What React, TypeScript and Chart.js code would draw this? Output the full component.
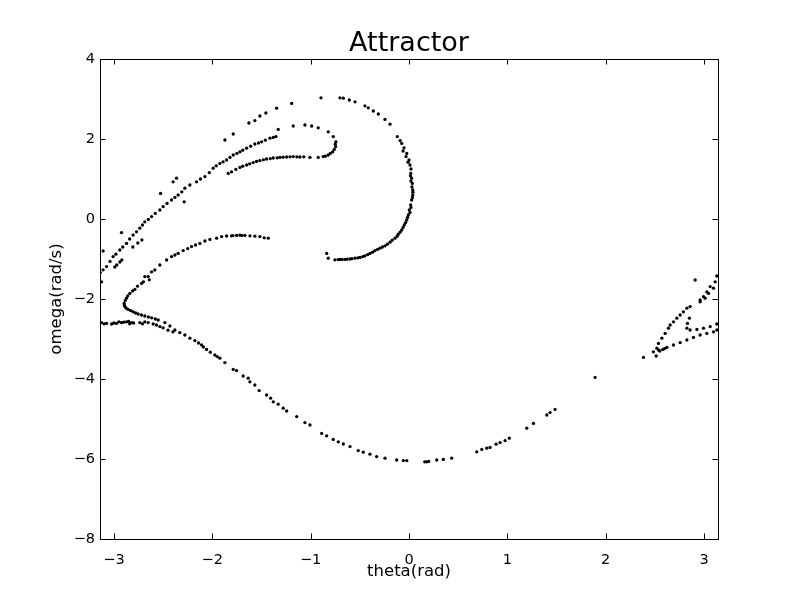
import React, { useEffect, useRef } from "react";
import { Chart, registerables } from "chart.js";
Chart.register(...registerables);

type P = [number, number];

// theta (rad), omega (rad/s)
const upperDiagonal: P[] = [
  [-3.14, -1.34], [-3.11, -1.27], [-3.075, -1.19], [-3.04, -1.06], [-3.008, -0.94], [-2.98, -0.88],
  [-2.94, -0.775], [-2.91, -0.7], [-2.872, -0.61], [-2.84, -0.5], [-2.805, -0.4], [-2.77, -0.32],
  [-2.737, -0.23], [-2.71, -0.15], [-2.686, -0.07], [-2.65, -0.01], [-2.617, 0.06], [-2.58, 0.14],
  [-2.533, 0.225], [-2.499, 0.31], [-2.46, 0.39], [-2.414, 0.475], [-2.38, 0.54], [-2.347, 0.6],
  [-2.31, 0.68], [-2.279, 0.77], [-2.228, 0.85], [-2.16, 0.93], [-2.12, 1.0], [-2.075, 1.06],
  [-2.03, 1.16], [-1.991, 1.27], [-1.96, 1.33], [-1.923, 1.39], [-1.89, 1.43], [-1.855, 1.475],
  [-1.82, 1.54], [-1.787, 1.6], [-1.75, 1.64], [-1.719, 1.68], [-1.69, 1.72], [-1.651, 1.77],
  [-1.61, 1.82], [-1.567, 1.875], [-1.53, 1.9], [-1.498, 1.93], [-1.46, 1.97], [-1.414, 2.02],
  [-1.38, 2.04], [-1.353, 2.06],
];

const shortSegment: P[] = [
  [-2.991, -1.2], [-2.971, -1.15], [-2.94, -1.075], [-2.92, -1.025], [-2.808, -0.7], [-2.757, -0.6], [-2.716, -0.525],
];

const scatteredUpper: P[] = [
  [-3.126, -1.57], [-3.11, -0.8], [-2.923, -0.34], [-2.526, 0.64], [-2.398, 0.93], [-2.363, 1.02], [-2.286, 0.43],
  [-1.872, 1.975], [-1.787, 2.125], [-1.628, 2.4], [-1.567, 2.46], [-1.516, 2.575], [-1.455, 2.65],
  [-1.346, 2.77], [-1.193, 2.89], [-0.895, 3.03],
];

const innerFold: P[] = [
  [-1.838, 1.14], [-1.804, 1.18], [-1.76, 1.24], [-1.719, 1.29], [-1.69, 1.32], [-1.651, 1.35], [-1.62, 1.38],
  [-1.584, 1.41], [-1.55, 1.44], [-1.516, 1.46], [-1.48, 1.48], [-1.448, 1.5], [-1.41, 1.51], [-1.38, 1.525],
  [-1.34, 1.53], [-1.312, 1.54], [-1.28, 1.545], [-1.244, 1.55], [-1.21, 1.555], [-1.177, 1.56], [-1.14, 1.555],
  [-1.109, 1.55], [-1.07, 1.555], [-1.007, 1.54], [-0.923, 1.54], [-0.872, 1.56], [-0.85, 1.57], [-0.821, 1.6],
  [-0.8, 1.64], [-0.776, 1.68], [-0.76, 1.74], [-0.746, 1.81], [-0.75, 1.87], [-0.743, 1.93], [-0.77, 2.06],
  [-0.821, 2.18], [-0.923, 2.28], [-0.99, 2.325], [-1.058, 2.35], [-1.177, 2.325], [-1.33, 2.24],
];

const outerCurve: P[] = [
  [-0.702, 3.03], [-0.668, 3.02], [-0.607, 2.975], [-0.549, 2.93], [-0.448, 2.83], [-0.414, 2.78], [-0.363, 2.7],
  [-0.312, 2.625], [-0.244, 2.49], [-0.193, 2.37], [-0.119, 2.06], [-0.09, 1.96], [-0.074, 1.89], [-0.06, 1.7],
  [-0.051, 1.78], [-0.03, 1.56], [-0.023, 1.64], [0.0, 1.475], [-0.01, 1.42], [0.01, 1.35], [0.02, 1.25],
  [0.017, 1.14], [0.015, 1.08], [0.027, 1.02], [0.02, 0.95], [0.034, 0.89], [0.03, 0.8], [0.038, 0.725],
  [0.04, 0.67], [0.038, 0.6], [0.035, 0.54], [0.027, 0.475], [0.017, 0.35], [0.02, 0.29], [0.003, 0.225],
  [0.01, 0.16], [-0.007, 0.1], [-0.015, 0.04], [-0.023, -0.025], [-0.035, -0.09], [-0.048, -0.15],
  [-0.06, -0.21], [-0.074, -0.275], [-0.09, -0.33], [-0.109, -0.38], [-0.12, -0.43], [-0.142, -0.48],
  [-0.17, -0.53], [-0.193, -0.58], [-0.22, -0.63], [-0.244, -0.67], [-0.27, -0.7], [-0.295, -0.73],
  [-0.32, -0.76], [-0.346, -0.79], [-0.37, -0.83], [-0.397, -0.86], [-0.42, -0.89], [-0.448, -0.92],
  [-0.47, -0.94], [-0.498, -0.96], [-0.52, -0.97], [-0.549, -0.98], [-0.58, -0.99], [-0.6, -1.0],
  [-0.63, -1.005], [-0.651, -1.01], [-0.68, -1.01], [-0.702, -1.01], [-0.72, -1.015], [-0.753, -1.02],
  [-0.821, -0.98], [-0.837, -0.86],
];

const lowerBranch: P[] = [
  [-2.686, -1.44], [-2.617, -1.32], [-2.533, -1.15], [-2.465, -1.025], [-2.414, -0.94], [-2.38, -0.9],
  [-2.347, -0.86], [-2.296, -0.79], [-2.25, -0.74], [-2.211, -0.69], [-2.17, -0.65], [-2.126, -0.61],
  [-2.075, -0.55], [-2.024, -0.51], [-1.956, -0.48], [-1.905, -0.44], [-1.855, -0.425], [-1.804, -0.42],
  [-1.79, -0.415], [-1.753, -0.41], [-1.72, -0.405], [-1.7, -0.41], [-1.668, -0.41], [-1.617, -0.42],
  [-1.567, -0.43], [-1.516, -0.44], [-1.472, -0.47], [-1.431, -0.48],
];

const noseCurve: P[] = [
  [-2.584, -1.275], [-2.64, -1.52], [-2.652, -1.44], [-2.7, -1.57], [-2.719, -1.61], [-2.76, -1.68],
  [-2.787, -1.76], [-2.81, -1.8], [-2.838, -1.86], [-2.86, -1.92], [-2.872, -1.98], [-2.885, -2.04],
  [-2.896, -2.11], [-2.895, -2.15], [-2.889, -2.19], [-2.875, -2.23], [-2.856, -2.26], [-2.83, -2.29],
  [-2.805, -2.32], [-2.78, -2.35], [-2.754, -2.375], [-2.72, -2.4], [-2.686, -2.425], [-2.65, -2.45],
  [-2.617, -2.47], [-2.58, -2.5], [-2.55, -2.525], [-2.482, -2.59], [-2.431, -2.675], [-2.38, -2.775],
  [-2.33, -2.84], [-2.279, -2.9], [-2.228, -2.98], [-2.177, -3.04], [-2.14, -3.1], [-2.109, -3.15],
  [-2.09, -3.2], [-2.058, -3.26], [-2.02, -3.33],
];

const flatPart: P[] = [
  [-3.126, -2.59], [-3.1, -2.62], [-3.075, -2.61], [-3.024, -2.625], [-3.0, -2.6], [-2.974, -2.61],
  [-2.95, -2.57], [-2.923, -2.59], [-2.9, -2.58], [-2.872, -2.57], [-2.85, -2.56], [-2.84, -2.62],
  [-2.821, -2.59], [-2.8, -2.6], [-2.737, -2.59], [-2.71, -2.62], [-2.686, -2.57], [-2.652, -2.59],
  [-2.601, -2.625], [-2.567, -2.65], [-2.533, -2.69], [-2.5, -2.72], [-2.45, -2.78], [-2.4, -2.82],
];

const descendingCurve: P[] = [
  [-1.974, -3.4], [-1.95, -3.44], [-1.923, -3.48], [-1.872, -3.59], [-1.787, -3.76], [-1.753, -3.79],
  [-1.686, -3.925], [-1.635, -3.98], [-1.617, -4.07], [-1.567, -4.15], [-1.523, -4.29], [-1.448, -4.4],
  [-1.407, -4.48], [-1.38, -4.57], [-1.33, -4.63], [-1.279, -4.73], [-1.244, -4.8], [-1.142, -4.94],
  [-1.058, -5.09], [-1.007, -5.15], [-0.888, -5.36], [-0.837, -5.42], [-0.77, -5.51], [-0.719, -5.57],
  [-0.668, -5.625], [-0.6, -5.69], [-0.516, -5.79], [-0.465, -5.83], [-0.397, -5.88], [-0.329, -5.94],
  [-0.244, -5.98], [-0.125, -6.025], [-0.058, -6.04], [-0.023, -6.04], [0.16, -6.07], [0.18, -6.07],
  [0.2, -6.06], [0.282, -6.025], [0.349, -6.01], [0.434, -5.98], [0.689, -5.82], [0.74, -5.76],
  [0.79, -5.73], [0.824, -5.71], [0.885, -5.63], [0.926, -5.59], [0.977, -5.54], [1.02, -5.48],
  [1.197, -5.23], [1.265, -5.11], [1.401, -4.9], [1.434, -4.84], [1.485, -4.76], [1.892, -3.96],
];

const rightArrow: P[] = [
  [2.384, -3.46], [2.485, -3.32], [2.513, -3.425], [2.52, -3.23], [2.536, -3.11], [2.571, -2.98],
  [2.604, -2.86], [2.638, -2.73], [2.655, -2.65], [2.689, -2.57], [2.723, -2.48], [2.757, -2.4],
  [2.79, -2.32], [2.825, -2.23], [2.858, -2.19], [2.96, -2.07], [2.994, -1.94], [3.028, -1.82],
  [3.062, -1.69], [3.13, -1.425], [2.909, -1.525], [3.113, -1.57], [3.096, -1.73], [3.045, -1.86],
  [3.011, -1.98], [2.96, -2.025],
];

const rightLower: P[] = [
  [2.536, -3.275], [2.55, -3.3], [2.58, -3.26], [2.6, -3.24], [2.622, -3.21], [2.689, -3.15], [2.757, -3.09],
  [2.825, -3.025], [2.892, -2.96], [2.96, -2.9], [3.028, -2.86], [3.096, -2.82], [3.13, -2.775],
  [2.851, -2.48], [2.831, -2.61], [2.825, -2.73], [2.858, -2.775], [2.927, -2.76], [2.994, -2.73],
  [3.062, -2.69], [3.13, -2.625],
];

const xTicks = [-3, -2, -1, 0, 1, 2, 3];
const yTicks = [4, 2, 0, -2, -4, -6, -8];

const fmt = (v: number | string) => {
  const n = Number(v);
  return n < 0 ? "\u2212" + Math.abs(n) : String(n);
};

export default function App() {
  const ref = useRef<HTMLCanvasElement>(null);
  useEffect(() => {
    if (!ref.current) return;
    const all = [
      ...upperDiagonal, ...shortSegment, ...scatteredUpper, ...innerFold, ...outerCurve,
      ...lowerBranch, ...noseCurve, ...flatPart, ...descendingCurve, ...rightArrow, ...rightLower,
    ].map(([x, y]) => ({ x, y }));

    const frame = {
      id: "frame",
      afterDraw(chart: any) {
        const { ctx, chartArea } = chart;
        const { left, right, top, bottom } = chartArea;
        const xs = chart.scales.x;
        const ys = chart.scales.y;
        ctx.save();
        ctx.strokeStyle = "#000";
        ctx.lineWidth = 1;
        ctx.strokeRect(Math.round(left) + 0.5, Math.round(top) + 0.5, Math.round(right - left), Math.round(bottom - top));
        const L = 5.5;
        ctx.beginPath();
        xTicks.forEach((v) => {
          const px = Math.round(xs.getPixelForValue(v)) + 0.5;
          ctx.moveTo(px, bottom);
          ctx.lineTo(px, bottom - L);
          ctx.moveTo(px, top);
          ctx.lineTo(px, top + L);
        });
        yTicks.forEach((v) => {
          const py = Math.round(ys.getPixelForValue(v)) + 0.5;
          ctx.moveTo(left, py);
          ctx.lineTo(left + L, py);
          ctx.moveTo(right, py);
          ctx.lineTo(right - L, py);
        });
        ctx.stroke();
        ctx.restore();
      },
    };

    const chart = new Chart(ref.current, {
      type: "scatter",
      data: {
        datasets: [
          {
            data: all,
            pointRadius: 1.65,
            pointHoverRadius: 1.65,
            pointBackgroundColor: "#000",
            pointBorderWidth: 0,
            borderColor: "#000",
            showLine: false,
          },
        ],
      },
      options: {
        responsive: false,
        animation: false,
        devicePixelRatio: 1,
        layout: { padding: { left: 0, right: 82, top: 0, bottom: 0 } },
        plugins: {
          legend: { display: false },
          tooltip: { enabled: false },
          title: {
            display: true,
            text: "Attractor",
            fullSize: false,
            color: "#000",
            font: { family: "DejaVu Sans", size: 27, weight: "normal", lineHeight: 1.0 },
            padding: { top: 30.5, bottom: 1.5 },
          },
        },
        scales: {
          x: {
            type: "linear",
            min: -Math.PI,
            max: Math.PI,
            afterBuildTicks: (s: any) => {
              s.ticks = xTicks.map((v) => ({ value: v }));
            },
            afterFit: (s: any) => {
              s.height = 61;
            },
            grid: { display: false },
            border: { display: false },
            ticks: {
              callback: fmt,
              color: "#000",
              font: { family: "DejaVu Sans", size: 14.5 },
              padding: 5,
              maxRotation: 0,
              autoSkip: false,
            },
            title: {
              display: true,
              text: "theta(rad)",
              color: "#000",
              font: { family: "DejaVu Sans", size: 16.5, lineHeight: 1.2 },
              padding: { top: 0, bottom: 18.5 },
            },
          },
          y: {
            type: "linear",
            min: -8,
            max: 4,
            afterBuildTicks: (s: any) => {
              s.ticks = yTicks.map((v) => ({ value: v }));
            },
            afterFit: (s: any) => {
              s.width = 100;
            },
            grid: { display: false },
            border: { display: false },
            ticks: {
              callback: fmt,
              color: "#000",
              font: { family: "DejaVu Sans", size: 14.5 },
              padding: -3,
              autoSkip: false,
            },
            title: {
              display: true,
              text: "omega(rad/s)",
              color: "#000",
              font: { family: "DejaVu Sans", size: 16.5, lineHeight: 1.2 },
              padding: { top: 47.1, bottom: 0 },
            },
          },
        },
      },
      plugins: [frame],
    });
    return () => chart.destroy();
  }, []);

  return (
    <div style={{ position: "fixed", left: 0, top: 0, width: 800, height: 600, background: "#fff" }}>
      <canvas ref={ref} width={800} height={600} style={{ display: "block" }} />
    </div>
  );
}
